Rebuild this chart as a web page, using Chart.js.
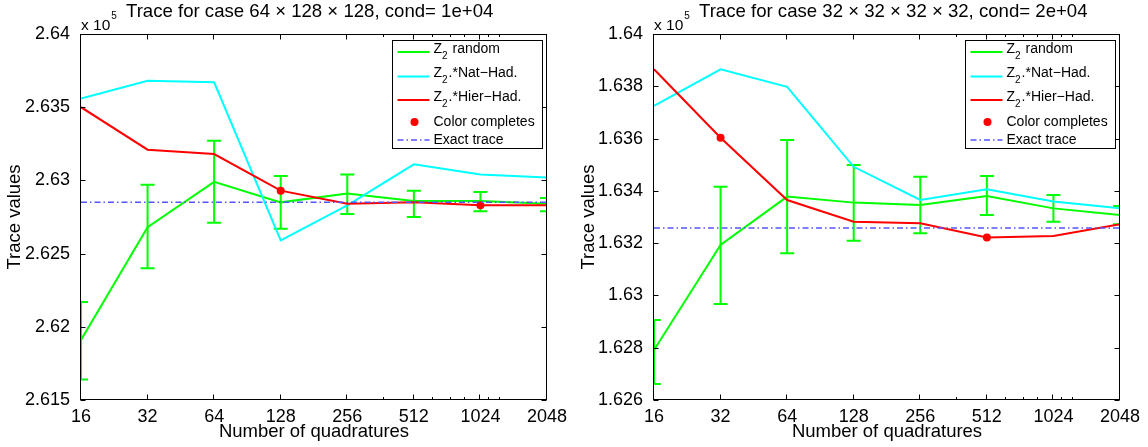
<!DOCTYPE html>
<html>
<head>
<meta charset="utf-8">
<script src="https://cdn.jsdelivr.net/npm/chart.js@4.4.1/dist/chart.umd.min.js"></script>
<style>
  body { margin: 0; background: #fff; }
  .panel { position: absolute; top: 0; width: 574px; height: 447px; }
</style>
</head>
<body>
<div class="panel" style="left:0"><canvas id="chartA" width="574" height="447"></canvas></div>
<div class="panel" style="left:574px"><canvas id="chartB" width="574" height="447"></canvas></div>
<script>
// number of quadratures (x axis, log2 spacing)
const quadratures = [16, 32, 64, 128, 256, 512, 1024, 2048];
const minorTicksX = [375, 625, 750, 875, 1125, 1250];

// --- case 64 x 128 x 128 (values x 10^5) ---
const randomA     = [2.6191, 2.6268, 2.6299, 2.6285, 2.6291, 2.6286, 2.6286, 2.6284];
const randomLowA  = [2.6164, 2.6240, 2.6271, 2.6267, 2.6277, 2.6275, 2.6279, 2.6279];
const randomHighA = [2.6217, 2.6297, 2.6327, 2.6303, 2.6304, 2.6293, 2.6292, 2.6288];
const natHadA     = [2.6356, 2.6368, 2.6367, 2.6259, 2.6283, 2.6311, 2.6304, 2.6302];
const hierHadA    = [2.6350, 2.6321, 2.6318, 2.6293, 2.6284, 2.6285, 2.6283, 2.6283];
const colorQuadA  = [128, 1024];
const colorValA   = [2.6293, 2.6283];
const exactA      = 2.6285;
const yTicksA     = [2.615, 2.62, 2.625, 2.63, 2.635, 2.64];

// --- case 32 x 32 x 32 x 32 (values x 10^5) ---
const randomB     = [1.62791, 1.63193, 1.63378, 1.63355, 1.63346, 1.63380, 1.63333, 1.63308];
const randomLowB  = [1.62661, 1.62967, 1.63161, 1.63209, 1.63238, 1.63308, 1.63282, 1.63272];
const randomHighB = [1.62906, 1.63416, 1.63595, 1.63499, 1.63454, 1.63457, 1.63384, 1.63342];
const natHadB     = [1.63725, 1.63865, 1.63798, 1.63492, 1.63365, 1.63406, 1.63359, 1.63333];
const hierHadB    = [1.63865, 1.63603, 1.63365, 1.63282, 1.63276, 1.63222, 1.63227, 1.63272];
const colorQuadB  = [32, 512];
const colorValB   = [1.63603, 1.63222];
const exactB      = 1.63258;
const yTicksB     = [1.626, 1.628, 1.63, 1.632, 1.634, 1.636, 1.638, 1.64];

const FONT = '"Liberation Sans", Arial, Helvetica, sans-serif';
const GREEN = '#00ff00', CYAN = '#00ffff', RED = '#ff0000', EXACT = 'rgb(85,85,255)';
const EXACT_DASH = [6, 3, 1.5, 3];

Chart.defaults.font.family = FONT;
Chart.defaults.color = '#000';

function pts(xs, ys){
    return xs.map((x, i) => ({x: x, y: ys[i]}));
}

function fmt(v){
    return String(parseFloat(v.toFixed(4)));
}

// Z with subscript 2, then the rest of the label
function drawZ(ctx, x, y, rest){
    ctx.font = '14px ' + FONT;
    ctx.textBaseline = 'alphabetic';
    ctx.fillText('Z', x, y);
    let w = ctx.measureText('Z').width;
    ctx.font = '10px ' + FONT;
    ctx.fillText('2', x + w, y + 6);
    let w2 = ctx.measureText('2').width;
    ctx.font = '14px ' + FONT;
    ctx.fillText(rest, x + w + w2 + 1, y);
}

// matlab style box, inward ticks, errorbars, title and legend
const matlabPlugin = {
    id: 'matlabStuff',
    beforeDatasetsDraw(chart){
        const o = chart.options.plugins.matlabStuff;
        const ctx = chart.ctx, a = chart.chartArea;
        const xs = chart.scales.x, ys = chart.scales.y;
        ctx.save();
        ctx.beginPath();
        ctx.rect(a.left, a.top, a.right - a.left, a.bottom - a.top);
        ctx.clip();
        ctx.strokeStyle = GREEN;
        ctx.lineWidth = 2;
        for(let i = 0; i < quadratures.length; i++){
            const px = xs.getPixelForValue(quadratures[i]);
            const lo = ys.getPixelForValue(o.low[i]);
            const hi = ys.getPixelForValue(o.high[i]);
            ctx.beginPath();
            ctx.moveTo(px, lo); ctx.lineTo(px, hi);
            ctx.moveTo(px - 7, lo); ctx.lineTo(px + 7, lo);
            ctx.moveTo(px - 7, hi); ctx.lineTo(px + 7, hi);
            ctx.stroke();
        }
        ctx.restore();
    },
    afterDatasetsDraw(chart){
        const o = chart.options.plugins.matlabStuff;
        const ctx = chart.ctx, a = chart.chartArea;
        const xs = chart.scales.x, ys = chart.scales.y;
        const L = Math.round(a.left) - 0.5, R = Math.round(a.right) - 0.5;
        const T = Math.round(a.top) + 0.5, B = Math.round(a.bottom) - 0.5;
        ctx.save();
        ctx.strokeStyle = '#000';
        ctx.lineWidth = 1;
        ctx.strokeRect(L, T, R - L, B - T);
        ctx.beginPath();
        o.yTicks.forEach(v => {
            const py = Math.round(ys.getPixelForValue(v)) + 0.5;
            ctx.moveTo(L, py); ctx.lineTo(L + 5, py);
            ctx.moveTo(R, py); ctx.lineTo(R - 5, py);
        });
        quadratures.forEach(q => {
            const px = Math.round(xs.getPixelForValue(q)) - 0.5;
            ctx.moveTo(px, B); ctx.lineTo(px, B - 5);
            ctx.moveTo(px, T); ctx.lineTo(px, T + 5);
        });
        minorTicksX.forEach(q => {
            const px = Math.round(xs.getPixelForValue(q)) - 0.5;
            ctx.moveTo(px, B); ctx.lineTo(px, B - 2.5);
            ctx.moveTo(px, T); ctx.lineTo(px, T + 2.5);
        });
        ctx.stroke();

        // title and exponent
        ctx.fillStyle = '#000';
        ctx.textAlign = 'left';
        ctx.textBaseline = 'alphabetic';
        ctx.font = '18.6px ' + FONT;
        ctx.fillText(o.title, a.left + 45, 17);
        ctx.font = '15.5px ' + FONT;
        ctx.fillText('x 10', a.left, a.top - 4);
        const ew = ctx.measureText('x 10').width;
        ctx.font = '10px ' + FONT;
        ctx.fillText('5', a.left + ew + 1, a.top - 15);

        // legend
        const lw = 150, lh = 108;
        const lx = Math.round(a.right - 5 - lw) + 0.5, ly = Math.round(a.top + 6) + 0.5;
        ctx.fillStyle = '#fff';
        ctx.fillRect(lx, ly, lw, lh);
        ctx.strokeStyle = '#000';
        ctx.strokeRect(lx, ly, lw, lh);
        const rows = [
            {c: GREEN, t: ' random', dy: 11.5},
            {c: CYAN, t: '.*Nat\u2212Had.', dy: 36},
            {c: RED, t: '.*Hier\u2212Had.', dy: 59.5}
        ];
        ctx.lineWidth = 2;
        rows.forEach(r => {
            ctx.strokeStyle = r.c;
            ctx.beginPath();
            ctx.moveTo(lx + 5, ly + r.dy); ctx.lineTo(lx + 37, ly + r.dy);
            ctx.stroke();
            ctx.fillStyle = '#000';
            drawZ(ctx, lx + 41, ly + r.dy + 0.7, r.t);
        });
        ctx.fillStyle = RED;
        ctx.beginPath();
        ctx.arc(lx + 22, ly + 81.5, 4, 0, Math.PI * 2);
        ctx.fill();
        ctx.strokeStyle = EXACT;
        ctx.lineWidth = 1.5;
        ctx.setLineDash(EXACT_DASH);
        ctx.beginPath();
        ctx.moveTo(lx + 5, ly + 99.5); ctx.lineTo(lx + 37, ly + 99.5);
        ctx.stroke();
        ctx.setLineDash([]);
        ctx.fillStyle = '#000';
        ctx.font = '14px ' + FONT;
        ctx.textBaseline = 'middle';
        ctx.fillText('Color completes', lx + 41, ly + 81.5);
        ctx.fillText('Exact trace', lx + 41, ly + 99.5);
        ctx.restore();
    }
};

function renderTraceChart(canvasId, cfg){
    const ctx = document.getElementById(canvasId).getContext('2d');
    return new Chart(ctx, {
        type: 'line',
        data: {
            datasets: [
                { label: 'Exact trace', data: pts([16, 2048], [cfg.exact, cfg.exact]),
                  borderColor: EXACT, borderWidth: 1.5, borderDash: EXACT_DASH, pointRadius: 0, order: 0 },
                { label: 'Color completes', data: pts(cfg.colorQuad, cfg.colorVal), showLine: false,
                  pointRadius: 4, pointBackgroundColor: RED, pointBorderColor: RED, pointBorderWidth: 0, order: 1 },
                { label: 'Hier-Had', data: pts(quadratures, cfg.hier),
                  borderColor: RED, borderWidth: 2, pointRadius: 0, order: 2 },
                { label: 'Nat-Had', data: pts(quadratures, cfg.nat),
                  borderColor: CYAN, borderWidth: 2, pointRadius: 0, order: 3 },
                { label: 'Z2 random', data: pts(quadratures, cfg.random),
                  borderColor: GREEN, borderWidth: 2, pointRadius: 0, order: 4 }
            ]
        },
        options: {
            responsive: false,
            animation: false,
            devicePixelRatio: 1,
            datasets: { line: { clip: 0, tension: 0, fill: false } },
            layout: { padding: { top: 34, right: cfg.padRight, left: 0, bottom: 0 } },
            scales: {
                x: {
                    type: 'logarithmic',
                    min: 16, max: 2048,
                    grid: { display: false },
                    border: { display: false },
                    afterBuildTicks: s => { s.ticks = quadratures.map(v => ({value: v})); },
                    afterFit: s => { s.height = 47; },
                    ticks: {
                        autoSkip: false, maxRotation: 0, padding: -2,
                        font: { size: 18 },
                        callback: v => String(v)
                    },
                    title: { display: true, text: 'Number of quadratures', font: { size: 18.5 } }
                },
                y: {
                    type: 'linear',
                    min: cfg.yTicks[0], max: cfg.yTicks[cfg.yTicks.length - 1],
                    grid: { display: false },
                    border: { display: false },
                    afterBuildTicks: s => { s.ticks = cfg.yTicks.map(v => ({value: v})); },
                    afterFit: s => { s.width = cfg.left; },
                    ticks: { padding: 3, font: { size: 18 }, callback: v => fmt(v) },
                    title: { display: true, text: 'Trace values', font: { size: 18.5 } }
                }
            },
            plugins: {
                legend: { display: false },
                tooltip: { enabled: false },
                title: { display: false },
                matlabStuff: { low: cfg.low, high: cfg.high, yTicks: cfg.yTicks, title: cfg.title }
            }
        },
        plugins: [matlabPlugin]
    });
}

renderTraceChart('chartA', {
    title: 'Trace for case 64 \u00d7 128 \u00d7 128, cond= 1e+04',
    random: randomA, low: randomLowA, high: randomHighA,
    nat: natHadA, hier: hierHadA,
    colorQuad: colorQuadA, colorVal: colorValA,
    exact: exactA, yTicks: yTicksA,
    left: 81, padRight: 27
});

renderTraceChart('chartB', {
    title: 'Trace for case 32 \u00d7 32 \u00d7 32 \u00d7 32, cond= 2e+04',
    random: randomB, low: randomLowB, high: randomHighB,
    nat: natHadB, hier: hierHadB,
    colorQuad: colorQuadB, colorVal: colorValB,
    exact: exactB, yTicks: yTicksB,
    left: 80, padRight: 28
});
</script>
</body>
</html>
